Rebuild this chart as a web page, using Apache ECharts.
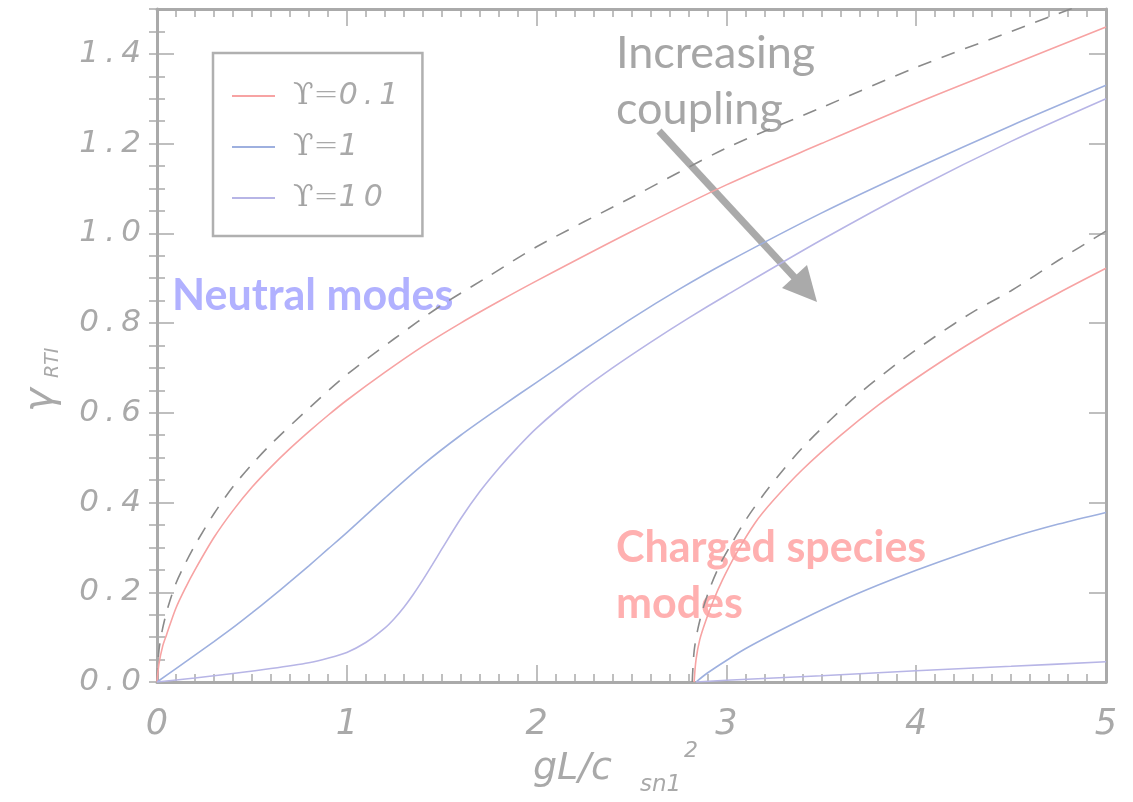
<!DOCTYPE html>
<html><head><meta charset="utf-8">
<script src="https://cdn.jsdelivr.net/npm/echarts@6/dist/echarts.min.js"></script>
<style>html,body{margin:0;padding:0;background:#fff}#c{width:1133px;height:802px}</style>
</head><body><div id="c"></div>
<script>
// ---- data ----
const legendNames = ['ϒ=0.1', 'ϒ=1', 'ϒ=10'];

// uncoupled neutral growth rate (dashed)
const dashNeutralX = [0, 0.01, 0.03, 0.06, 0.1, 0.15, 0.2, 0.3, 0.4, 0.5, 0.6, 0.8, 1.0, 1.25, 1.5, 1.75, 2.0, 2.5, 3.0, 3.5, 4.0, 4.5, 5.0];
const dashNeutralY = [0, 0.07, 0.12, 0.17, 0.22, 0.265, 0.305, 0.375, 0.435, 0.485, 0.53, 0.61, 0.685, 0.765, 0.84, 0.905, 0.97, 1.08, 1.19, 1.28, 1.37, 1.45, 1.53];

// neutral modes
const redNeutralX = [0, 0.01, 0.03, 0.05, 0.1, 0.15, 0.2, 0.3, 0.4, 0.5, 0.6, 0.7, 0.8, 0.9, 1.0, 1.2, 1.4, 1.6, 1.8, 2.0, 2.5, 3.0, 3.5, 4.0, 4.5, 5.0];
const redNeutralY = [0, 0.04, 0.08, 0.105, 0.165, 0.21, 0.25, 0.322, 0.382, 0.434, 0.479, 0.52, 0.558, 0.594, 0.628, 0.69, 0.748, 0.80, 0.848, 0.894, 1.004, 1.108, 1.20, 1.29, 1.375, 1.46];

const blueNeutralX = [0, 0.1, 0.2, 0.3, 0.4, 0.5, 0.6, 0.7, 0.8, 0.9, 1.0, 1.2, 1.4, 1.6, 1.8, 2.0, 2.25, 2.5, 2.75, 3.0, 3.5, 4.0, 4.5, 5.0];
const blueNeutralY = [0, 0.03, 0.06, 0.09, 0.121, 0.154, 0.188, 0.223, 0.259, 0.296, 0.333, 0.41, 0.484, 0.55, 0.61, 0.668, 0.74, 0.81, 0.875, 0.935, 1.045, 1.145, 1.24, 1.33];

const purpleNeutralX = [0, 0.2, 0.4, 0.6, 0.8, 0.9, 1.0, 1.1, 1.2, 1.25, 1.3, 1.35, 1.4, 1.45, 1.5, 1.6, 1.7, 1.8, 1.9, 2.0, 2.2, 2.4, 2.6, 2.8, 3.0, 3.5, 4.0, 4.5, 5.0];
const purpleNeutralY = [0, 0.009, 0.019, 0.03, 0.043, 0.053, 0.066, 0.088, 0.12, 0.141, 0.166, 0.195, 0.227, 0.261, 0.296, 0.364, 0.424, 0.476, 0.523, 0.566, 0.638, 0.7, 0.757, 0.811, 0.862, 0.985, 1.10, 1.205, 1.30];

// charged species modes
const dashChargedX = [2.82, 2.83, 2.85, 2.88, 2.92, 2.97, 3.03, 3.1, 3.2, 3.3, 3.4, 3.55, 3.7, 3.9, 4.1, 4.3, 4.5, 4.75, 5.0];
const dashChargedY = [0, 0.069, 0.119, 0.168, 0.217, 0.265, 0.31, 0.36, 0.42, 0.473, 0.522, 0.585, 0.643, 0.71, 0.77, 0.825, 0.872, 0.94, 1.005];

const redChargedX = [2.83, 2.84, 2.86, 2.89, 2.93, 2.98, 3.05, 3.15, 3.25, 3.4, 3.6, 3.8, 4.0, 4.25, 4.5, 4.75, 5.0];
const redChargedY = [0, 0.05, 0.095, 0.135, 0.18, 0.228, 0.285, 0.354, 0.406, 0.473, 0.549, 0.617, 0.677, 0.746, 0.809, 0.867, 0.922];

const blueChargedX = [2.84, 2.9, 3.0, 3.1, 3.25, 3.4, 3.6, 3.8, 4.0, 4.25, 4.5, 4.75, 5.0];
const blueChargedY = [0, 0.02, 0.048, 0.074, 0.108, 0.14, 0.18, 0.216, 0.249, 0.287, 0.322, 0.352, 0.378];

const purpleChargedX = [2.84, 3.0, 3.5, 4.0, 4.5, 5.0];
const purpleChargedY = [0, 0.004, 0.014, 0.025, 0.035, 0.045];

// ---- chart ----
const zip = (xs, ys) => xs.map((x, i) => [x, ys[i]]);
const AX = '#aaaaaa';
const LBL = '#a9a9a9';
const RED = '#f7a3a3', BLUE = '#9eb0df', PURPLE = '#b7b5e6', DASH = '#8a8a8a';

function lineSeries(name, xs, ys, color, dashed) {
  return {
    type: 'line', name: name, data: zip(xs, ys), symbol: 'none', smooth: 0.3,
    xAxisIndex: 0, yAxisIndex: 0, silent: true, clip: true,
    lineStyle: { color: color, width: 1.6, type: dashed ? [14, 11] : 'solid' },
    itemStyle: { color: color }
  };
}

const spaced = s => s.split('').join('\u2009');

const xCommon = {
  type: 'value', min: 0, max: 5, interval: 1,
  axisLine: { show: true, onZero: false, lineStyle: { color: AX, width: 3 } },
  axisTick: { show: true, inside: true, length: 17, lineStyle: { color: AX, width: 1.5 } },
  minorTick: { show: true, splitNumber: 10, length: 8, lineStyle: { color: AX, width: 1.5 } },
  splitLine: { show: false }, minorSplitLine: { show: false }
};
const yMajor = {
  type: 'value', min: 0, max: 1.5, interval: 0.2,
  axisLine: { show: true, onZero: false, lineStyle: { color: AX, width: 3 } },
  axisTick: { show: true, inside: true, length: 17, lineStyle: { color: AX, width: 1.5 } },
  splitLine: { show: false }
};
const yMinor = {
  type: 'value', min: 0, max: 1.5, interval: 0.05,
  axisLine: { show: false },
  axisTick: { show: true, inside: true, length: 8, lineStyle: { color: AX, width: 1.5 } },
  axisLabel: { show: false }, splitLine: { show: false }
};

const option = {
  backgroundColor: '#ffffff',
  animation: false,
  grid: { left: 157, right: 27, top: 9, bottom: 120, containLabel: false },
  xAxis: [
    Object.assign({}, xCommon, {
      position: 'bottom',
      axisLabel: { show: true, margin: 25, color: LBL, fontSize: 35, fontStyle: 'italic', fontWeight: 200, fontFamily: 'DejaVu Sans' }
    }),
    Object.assign({}, xCommon, { position: 'top', axisLabel: { show: false } })
  ],
  yAxis: [
    Object.assign({}, yMajor, {
      position: 'left',
      axisLabel: {
        show: true, margin: 16, showMaxLabel: false, color: LBL, fontSize: 31, fontStyle: 'italic', fontWeight: 200, fontFamily: 'DejaVu Sans',
        formatter: v => spaced(v.toFixed(1))
      }
    }),
    Object.assign({}, yMinor, { position: 'left' }),
    Object.assign({}, yMajor, { position: 'right', axisLabel: { show: false } }),
    Object.assign({}, yMinor, { position: 'right' })
  ],
  legend: {
    data: legendNames,
    orient: 'vertical', left: 213, top: 53,
    padding: [28, 24, 23, 18], itemGap: 21, itemWidth: 43, itemHeight: 14,
    borderColor: '#b0b0b0', borderWidth: 2.5, selectedMode: false,
    itemStyle: { color: 'rgba(0,0,0,0)', borderColor: 'rgba(0,0,0,0)', borderWidth: 0, opacity: 0 },
    textStyle: {
      color: LBL, fontSize: 30, lineHeight: 30,
      rich: {
        u: { fontSize: 30, color: '#a3a3a3', fontFamily: 'DejaVu Serif', padding: [0, 0, 0, 13] },
        e: { fontSize: 30, color: LBL, fontFamily: 'DejaVu Sans', fontWeight: 200 },
        n: { fontSize: 30, color: LBL, fontFamily: 'DejaVu Sans', fontStyle: 'italic', fontWeight: 200 }
      }
    },
    formatter: name => {
      const parts = name.split('=');
      return '{u|' + parts[0] + '}{e|=}{n|' + spaced(parts[1]) + '}';
    }
  },
  series: [
    lineSeries('dashN', dashNeutralX, dashNeutralY, DASH, true),
    lineSeries('dashC', dashChargedX, dashChargedY, DASH, true),
    lineSeries(legendNames[0], redNeutralX, redNeutralY, RED, false),
    lineSeries(legendNames[1], blueNeutralX, blueNeutralY, BLUE, false),
    lineSeries(legendNames[2], purpleNeutralX, purpleNeutralY, PURPLE, false),
    lineSeries(legendNames[0], redChargedX, redChargedY, RED, false),
    lineSeries(legendNames[1], blueChargedX, blueChargedY, BLUE, false),
    lineSeries(legendNames[2], purpleChargedX, purpleChargedY, PURPLE, false)
  ],
  graphic: [
    // y axis title
    { type: 'text', x: 42, y: 412, rotation: Math.PI / 2,
      style: { text: 'γ', font: 'italic 200 40px "DejaVu Sans"', fill: LBL, textAlign: 'left', textVerticalAlign: 'middle' } },
    { type: 'text', x: 53, y: 378, rotation: Math.PI / 2,
      style: { text: 'RTI', font: 'italic 200 19px "DejaVu Sans"', fill: LBL, textAlign: 'left', textVerticalAlign: 'middle' } },
    // x axis title
    { type: 'text', x: 533, y: 788,
      style: { text: 'gL/c', font: 'italic 200 38px "DejaVu Sans"', fill: LBL, textAlign: 'left', textVerticalAlign: 'bottom' } },
    { type: 'text', x: 640, y: 797,
      style: { text: 'sn1', font: 'italic 200 23px "DejaVu Sans"', fill: LBL, textAlign: 'left', textVerticalAlign: 'bottom' } },
    { type: 'text', x: 684, y: 762,
      style: { text: '2', font: 'italic 200 22px "DejaVu Sans"', fill: LBL, textAlign: 'left', textVerticalAlign: 'bottom' } },
    // annotations
    { type: 'text', x: 616, y: 25,
      style: { text: 'Increasing\ncoupling', font: '45px Lato', lineHeight: 56, fill: '#a6a6a6', textAlign: 'left', textVerticalAlign: 'top' } },
    { type: 'text', x: 172, y: 275,
      style: { text: 'Neutral modes', font: 'bold 43px Lato', fill: '#b1b1ff', textAlign: 'left', textVerticalAlign: 'top' } },
    { type: 'text', x: 616, y: 520,
      style: { text: 'Charged species\nmodes', font: 'bold 43px Lato', lineHeight: 56, fill: '#ffb0b0', textAlign: 'left', textVerticalAlign: 'top' } },
    // arrow
    { type: 'line', shape: { x1: 659, y1: 131, x2: 796, y2: 279 }, style: { stroke: '#aaaaaa', lineWidth: 7 } },
    { type: 'polygon', shape: { points: [[817, 302], [782, 288], [807, 265]] }, style: { fill: '#aaaaaa' } }
  ]
};
const chart = echarts.init(document.getElementById('c'));
chart.setOption(option);
</script>
</body></html>
